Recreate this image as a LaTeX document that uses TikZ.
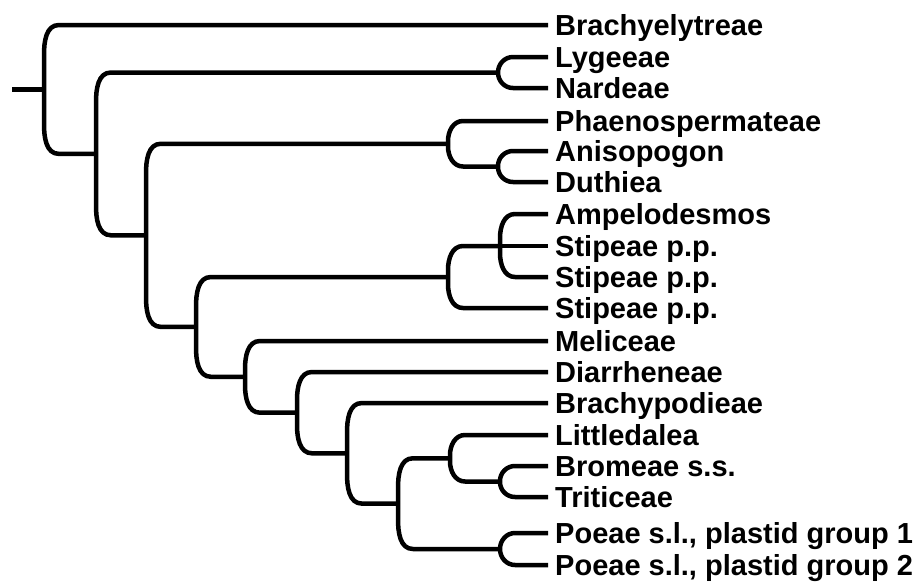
\documentclass[tikz,border=0pt]{standalone}
\usepackage{fontspec}
\setmainfont{Liberation Sans}
\usetikzlibrary{calc}
\tikzset{
  br/.style={line width=4.5pt, line cap=butt, line join=round},
  lab/.style={anchor=base west, inner sep=0pt, font=\fontsize{29}{29}\selectfont\bfseries}
}
% #1 clade coordinate, #2 upper child, #3 lower child, #4 vertical corner extent
\newcommand{\clade}[4]{%
  \draw[br] (#2) -- ($(#2 -| #1)+(15pt,0)$) to[out=180,in=90] ($(#2 -| #1)+(0,-#4 pt)$)
    -- ($(#3 -| #1)+(0,#4 pt)$) to[out=-90,in=180] ($(#3 -| #1)+(15pt,0)$) -- (#3);}
\begin{document}
\begin{tikzpicture}[x=1pt,y=-1pt]
\useasboundingbox (0,0) rectangle (918,581);
% leaves
\foreach \i/\y/\t in {1/25/Brachyelytreae, 2/57/Lygeeae, 3/88/Nardeae,
  4/121/Phaenospermateae, 5/151/Anisopogon, 6/182/Duthiea,
  7/214/Ampelodesmos, 8/246/Stipeae p.p., 9/277/Stipeae p.p., 10/308/Stipeae p.p.,
  11/341/Meliceae, 12/372/Diarrheneae, 13/403/Brachypodieae,
  14/435/Littledalea, 15/466/Bromeae s.s., 16/497/Triticeae,
  17/533/{Poeae s.l., plastid group 1}, 18/565/{Poeae s.l., plastid group 2}}{
  \coordinate (e\i) at (548,\y);
  \node[lab] (t\i) at ($(e\i)+(7pt,-10.5pt)$) {\t};
}
% internal nodes
\coordinate (LN) at (498,72.5);
\coordinate (AD) at (498,166.5);
\coordinate (Ph) at (448,143.75);
\coordinate (Tr) at (500,246);
\coordinate (St) at (448,277);
\coordinate (BT) at (500,481.5);
\coordinate (LL) at (450,458.25);
\coordinate (Po) at (500,549);
\coordinate (n8) at (398,503.6);
\coordinate (n7) at (347,453.3);
\coordinate (n6) at (297,412.7);
\coordinate (n5) at (245,376.8);
\coordinate (n4) at (196,326.9);
\coordinate (n3) at (146,235.3);
\coordinate (n2) at (96,153.9);
\coordinate (rt) at (44,89.5);
\coordinate (base) at (12,89.5);
% clades
\clade{rt}{e1}{n2}{30}
\clade{n2}{LN}{n3}{30}
\clade{LN}{e2}{e3}{15.5}
\clade{n3}{Ph}{n4}{30}
\clade{Ph}{e4}{AD}{20}
\clade{AD}{e5}{e6}{15}
\clade{n4}{St}{n5}{30}
\clade{St}{Tr}{e10}{24}
\clade{Tr}{e7}{e9}{24}
\draw[br] (Tr) -- (e8);
\clade{n5}{e11}{n6}{28}
\clade{n6}{e12}{n7}{28}
\clade{n7}{e13}{n8}{30}
\clade{n8}{LL}{Po}{30}
\clade{LL}{e14}{BT}{20}
\clade{BT}{e15}{e16}{15}
\clade{Po}{e17}{e18}{16}
\draw[br] (base) -- (rt);
\end{tikzpicture}
\end{document}
